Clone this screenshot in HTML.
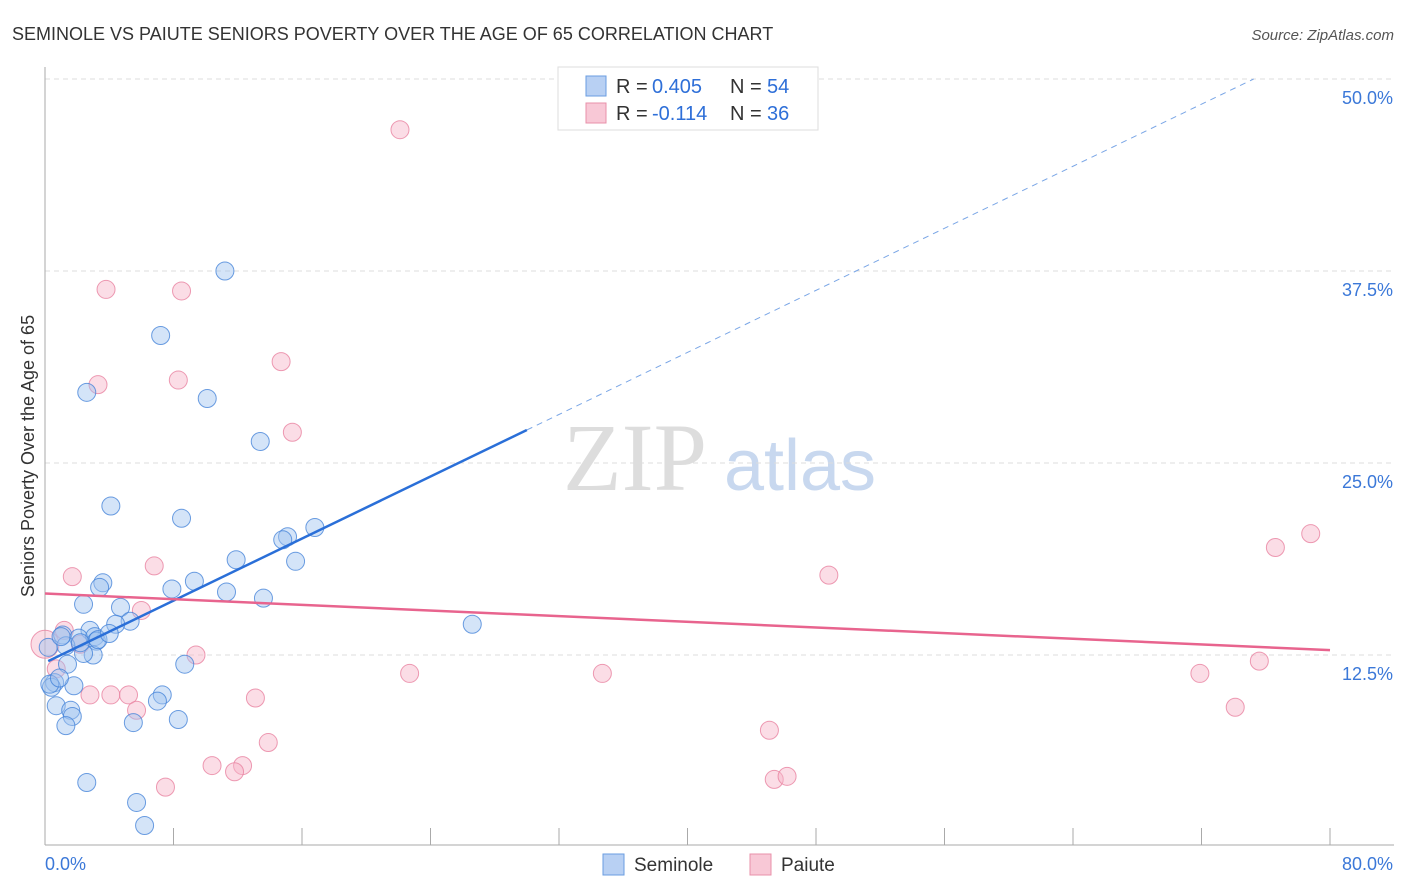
<!DOCTYPE html>
<html><head><meta charset="utf-8"><style>
body{margin:0;background:#fff;font-family:"Liberation Sans",sans-serif}
svg{display:block}
</style></head><body>
<svg id="chart" width="1406" height="892">
<text x="12" y="40" font-size="18" fill="#333">SEMINOLE VS PAIUTE SENIORS POVERTY OVER THE AGE OF 65 CORRELATION CHART</text>
<text x="1394" y="40" font-size="15" fill="#555" font-style="italic" text-anchor="end">Source: ZipAtlas.com</text>
<text x="34" y="456" font-size="18" fill="#333" text-anchor="middle" transform="rotate(-90 34 456)">Seniors Poverty Over the Age of 65</text>
<text x="635" y="490" font-size="96" fill="#ddd" font-family="Liberation Serif" text-anchor="middle">ZIP</text>
<text x="800" y="490" font-size="72" fill="#c8d8ef" text-anchor="middle">atlas</text>
<g id="grid"></g><g id="axes"></g><g id="marks"></g>
<g>
<rect x="558" y="67" width="260" height="63" fill="#fff" stroke="#ddd"/>
<rect x="586" y="76" width="20" height="20" fill="#b8d0f3" stroke="#6a9de0"/>
<rect x="586" y="103" width="20" height="20" fill="#f8c8d6" stroke="#e890aa"/>
<g font-size="20" fill="#333">
<text x="616" y="93">R =</text><text x="652" y="93" fill="#2e6fd8">0.405</text><text x="730" y="93">N =</text><text x="767" y="93" fill="#2e6fd8">54</text></g>
<g font-size="20" fill="#333">
<text x="616" y="120">R =</text><text x="652" y="120" fill="#2e6fd8">-0.114</text><text x="730" y="120">N =</text><text x="767" y="120" fill="#2e6fd8">36</text></g>
</g>
<g>
<rect x="603" y="854" width="21" height="21" fill="#b8d0f3" stroke="#6a9de0"/>
<text x="634" y="871" font-size="19" fill="#333">Seminole</text>
<rect x="750" y="854" width="21" height="21" fill="#f8c8d6" stroke="#e890aa"/>
<text x="781" y="871" font-size="19" fill="#333">Paiute</text>
</g>
</svg>
<script>
const yTicks=[12.5,25,37.5,50];
const yTickLabels=["12.5%","25.0%","37.5%","50.0%"];
const xTicks=[0,8,16,24,32,40,48,56,64,72,80];
const seminoleX=[11.2,7.2,2.6,10.1,13.4,4.1,8.5,16.8,15.1,14.8,11.9,15.6,3.6,3.4,9.3,7.9,11.3,13.6,2.4,4.7,5.3,4.4,26.6,2.8,1.1,2.1,3.1,3.2,1.3,3.0,2.4,1.4,8.7,0.6,0.4,1.8,7.3,7.0,0.7,1.6,1.7,1.3,5.5,8.3,2.6,5.7,6.2,0.2,1.0,2.2,0.3,3.3,0.9,4.0];
const seminoleY=[37.5,33.3,29.6,29.2,26.4,22.2,21.4,20.8,20.2,20.0,18.7,18.6,17.2,16.9,17.3,16.8,16.6,16.2,15.8,15.6,14.7,14.5,14.5,14.1,13.8,13.6,13.7,13.4,13.1,12.5,12.6,11.9,11.9,10.7,10.4,10.5,9.9,9.5,9.2,8.9,8.5,7.9,8.1,8.3,4.2,2.9,1.4,13.0,13.7,13.3,10.6,13.5,11.0,13.9];
const paiuteX=[22.1,3.8,8.5,14.7,3.3,8.3,15.4,78.8,76.6,6.8,1.7,48.8,6.0,1.2,2.2,9.4,75.6,0.7,22.7,34.7,71.9,2.8,4.1,5.2,13.1,5.7,74.1,45.1,13.9,10.4,12.3,11.8,45.4,46.2,7.5,0.0];
const paiuteY=[46.7,36.3,36.2,31.6,30.1,30.4,27.0,20.4,19.5,18.3,17.6,17.7,15.4,14.1,13.2,12.5,12.1,11.6,11.3,11.3,11.3,9.9,9.9,9.9,9.7,8.9,9.1,7.6,6.8,5.3,5.3,4.9,4.4,4.6,3.9,13.2];
const seminoleTrend=[12.0,0.505];
const paiuteTrend=[16.5,-0.046];
const NS="http://www.w3.org/2000/svg";
const X=v=>45+v/80*1285, Y=v=>847-v/12.5*192;
function mk(tag,attrs,parent){const e=document.createElementNS(NS,tag);for(const k in attrs)e.setAttribute(k,attrs[k]);parent.appendChild(e);return e;}
const grid=document.getElementById('grid'),axes=document.getElementById('axes'),marks=document.getElementById('marks');
yTicks.forEach((t,i)=>{
 const l=mk('line',{x1:45,x2:1394,y1:Y(t),y2:Y(t),stroke:'#ddd','stroke-dasharray':'5,4'},grid);
 
 
 const tx=mk('text',{x:1393,y:Y(t)+25,'font-size':18,fill:'#3b78d8','text-anchor':'end'},axes);
 tx.textContent=yTickLabels[i];
 
 
});
const ax=mk('line',{x1:45,x2:45,y1:67,y2:845,stroke:'#aaa'},axes);


const bx=mk('line',{x1:45,x2:1394,y1:845,y2:845,stroke:'#aaa'},axes);


xTicks.slice(1).forEach(t=>{const l=mk('line',{x1:X(t),x2:X(t),y1:828,y2:845,stroke:'#aaa'},axes);
 
 });
const x0=mk('text',{x:45,y:870,'font-size':18,fill:'#3b78d8'},axes);x0.textContent='0.0%';


const x1=mk('text',{x:1393,y:870,'font-size':18,fill:'#3b78d8','text-anchor':'end'},axes);x1.textContent='80.0%';


paiuteX.forEach((v,i)=>{const c=mk('circle',{cx:X(v),cy:Y(paiuteY[i]),r:i==35?14:9,fill:'rgba(246,180,200,0.45)',stroke:'rgba(232,130,160,0.8)','stroke-width':1},marks);
 
 });
seminoleX.forEach((v,i)=>{const c=mk('circle',{cx:X(v),cy:Y(seminoleY[i]),r:9,fill:'rgba(160,195,240,0.45)',stroke:'rgba(60,125,215,0.75)','stroke-width':1},marks);
 
 });
const sl=mk('line',{x1:X(0.2),y1:Y(seminoleTrend[0]+seminoleTrend[1]*0.2),x2:X(30),y2:Y(seminoleTrend[0]+seminoleTrend[1]*30),stroke:'#2a6fd8','stroke-width':2.5},marks);


const xEnd=(50.0-seminoleTrend[0])/seminoleTrend[1];
const sd=mk('line',{x1:X(30),y1:Y(seminoleTrend[0]+seminoleTrend[1]*30),x2:X(xEnd),y2:Y(50.0),stroke:'#7aa6e6','stroke-width':1,'stroke-dasharray':'6,5'},marks);


const pl=mk('line',{x1:X(0),y1:Y(paiuteTrend[0]),x2:X(80),y2:Y(paiuteTrend[0]+paiuteTrend[1]*80),stroke:'#e8648e','stroke-width':2.5},marks);


</script>
</body></html>
